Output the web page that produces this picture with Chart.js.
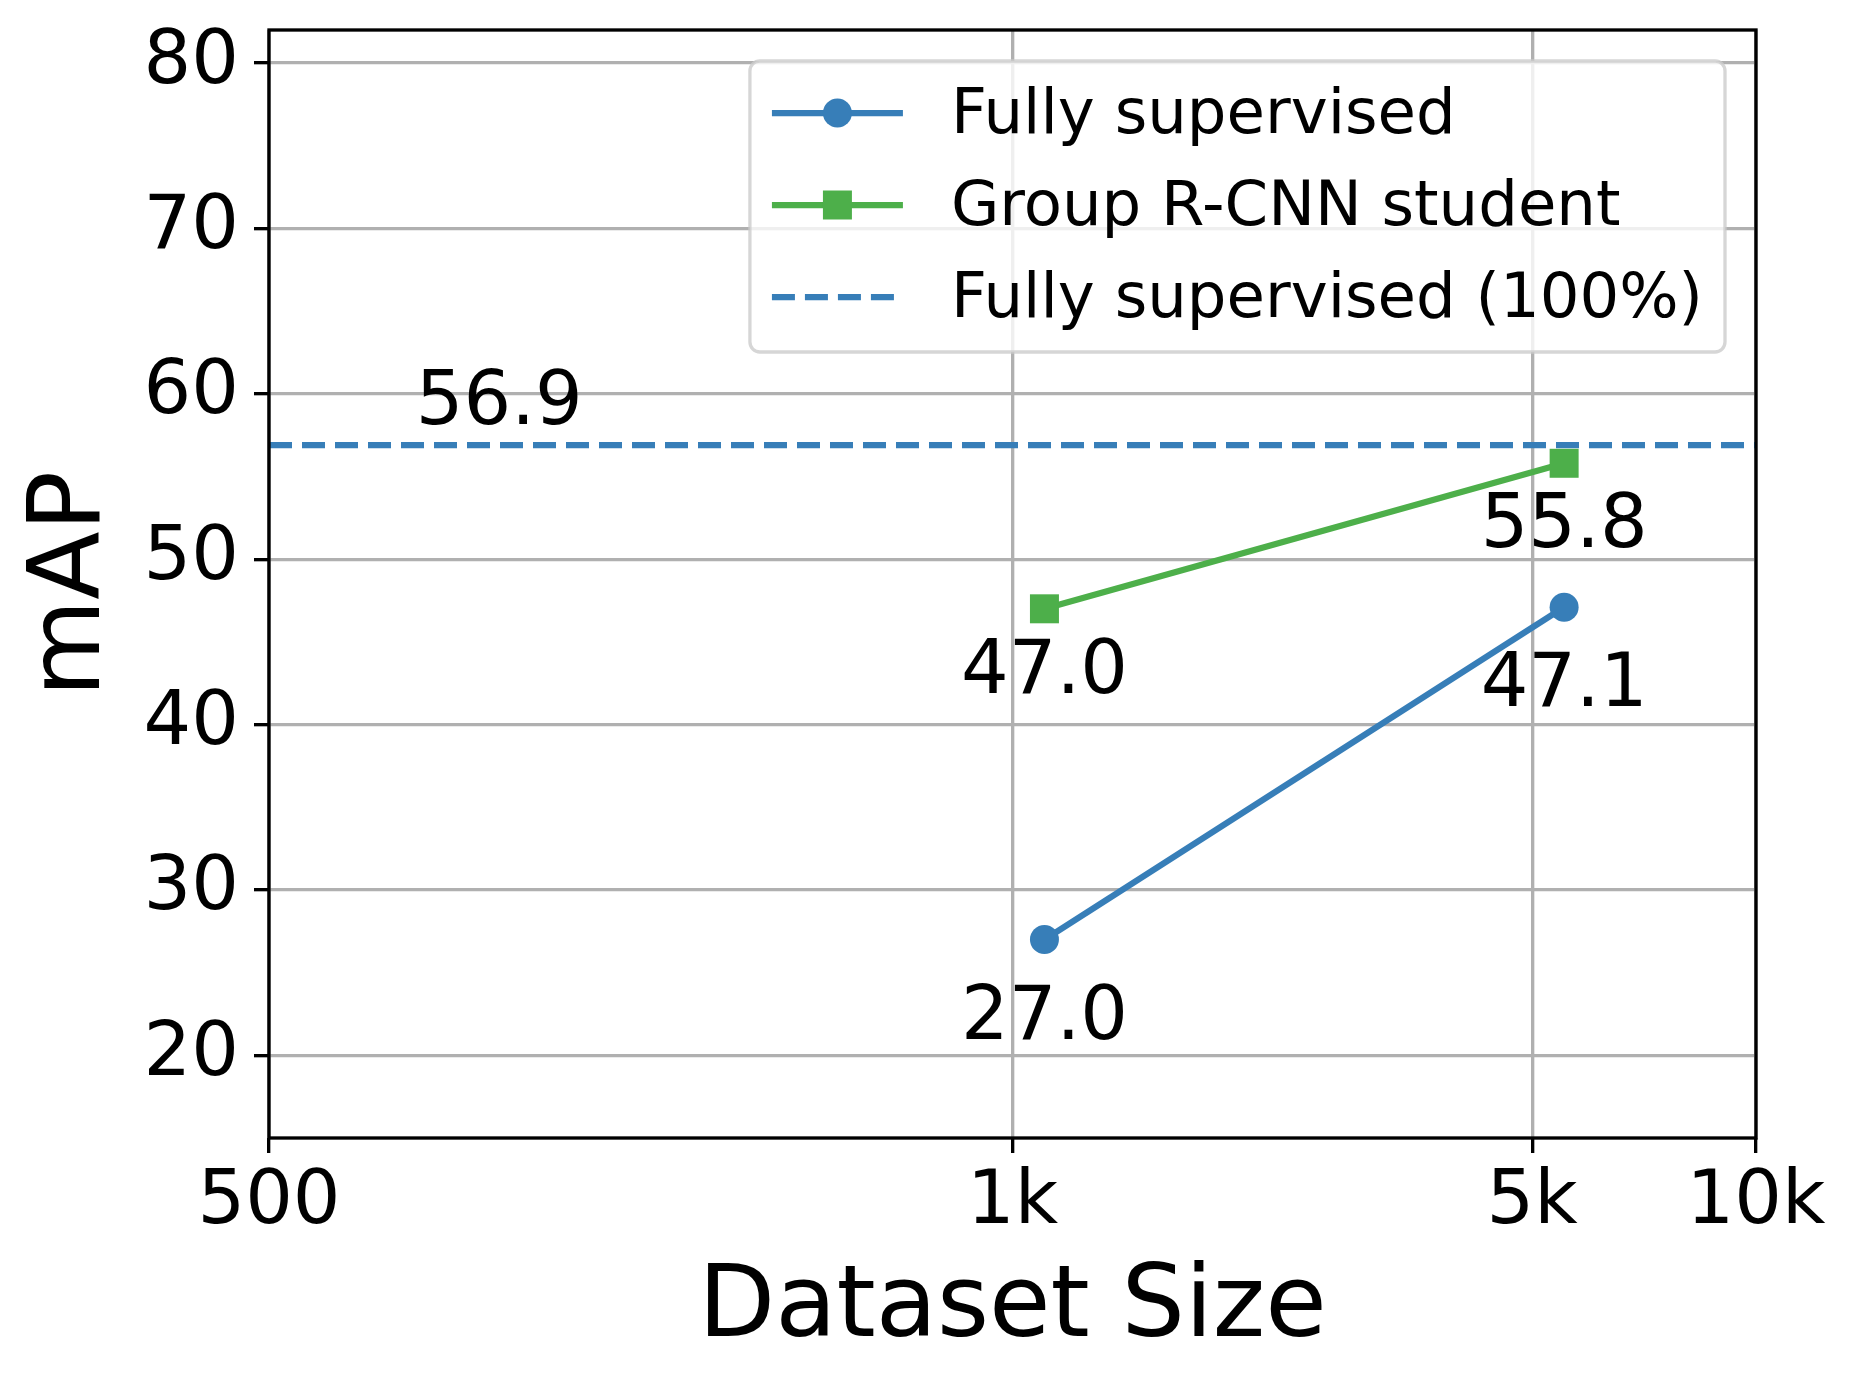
<!DOCTYPE html>
<html>
<head>
<meta charset="utf-8">
<title>mAP vs dataset size</title>
<script src="https://cdn.jsdelivr.net/npm/chart.js@4.4.1/dist/chart.umd.min.js"></script>
<style>
  html, body { margin: 0; padding: 0; background: #fff; }
  #wrap { width: 1855px; height: 1384px; position: relative; }
</style>
</head>
<body>
<div id="wrap"><canvas id="myChart"></canvas></div>
<script>
'use strict';

// data
const datasetSizes = [1104, 5520];
const fullySupervised = [27.0, 47.1];
const groupRcnnStudent = [47.0, 55.8];
const fullyRef = 56.9;
const seriesNames = ['Fully supervised', 'Group R-CNN student', 'Fully supervised (100%)'];

// axes
const xTickValues = [100, 1000, 5000, 10000];
const xTickLabels = ['500', '1k', '5k', '10k'];
const yTickValues = [20, 30, 40, 50, 60, 70, 80];
const xMin = 100, xMax = 10000;
const yMin = 15, yMax = 82;
const refLabelX = 204;

const chartFont = '"DejaVu Sans", sans-serif';
const blue = '#377eb8';
const green = '#4daf4a';
const lw = 6.25;

function toPoints(xs, ys) {
  return xs.map((x, i) => ({ x: x, y: ys[i] }));
}

// black box all round the plot area
const framePlugin = {
  id: 'frame',
  afterDatasetsDraw(chart) {
    const { ctx, chartArea: a } = chart;
    ctx.save();
    ctx.strokeStyle = '#000';
    ctx.lineWidth = 3.33;
    ctx.strokeRect(a.left, a.top, a.right - a.left, a.bottom - a.top);
    ctx.restore();
  }
};

// numbers under the points and over the dashed line
const valueLabels = {
  id: 'valueLabels',
  afterDatasetsDraw(chart) {
    const ctx = chart.ctx;
    ctx.save();
    ctx.font = '75px ' + chartFont;
    ctx.fillStyle = '#000';
    ctx.textAlign = 'center';
    ctx.textBaseline = 'alphabetic';
    chart.data.datasets.forEach((d, i) => {
      if (!d.valueLabelOffset) return;
      chart.getDatasetMeta(i).data.forEach((pt, j) => {
        ctx.fillText(d.data[j].y.toFixed(1), pt.x, pt.y + d.valueLabelOffset);
      });
    });
    const xs = chart.scales.x, ys = chart.scales.y;
    ctx.fillText(fullyRef.toFixed(1), xs.getPixelForValue(refLabelX), ys.getPixelForValue(fullyRef) - 21);
    ctx.restore();
  }
};

// legend box inside the upper right corner
const insideLegend = {
  id: 'insideLegend',
  afterDraw(chart) {
    const { ctx, chartArea } = chart;
    const sets = chart.data.datasets;
    ctx.save();
    ctx.font = '62.5px ' + chartFont;
    const maxW = Math.max(...sets.map(d => ctx.measureText(d.label).width));
    const pad = 22, handleLen = 131, textPad = 48, rowGap = 92;
    const right = chartArea.right - 31;
    const top = chartArea.top + 31;
    const width = pad + handleLen + textPad + maxW + pad;
    const height = 291;
    const left = right - width;

    ctx.beginPath();
    ctx.roundRect(left, top, width, height, 10);
    ctx.fillStyle = 'rgba(255,255,255,0.8)';
    ctx.fill();
    ctx.lineWidth = 3.3;
    ctx.strokeStyle = 'rgba(204,204,204,0.8)';
    ctx.stroke();

    sets.forEach((d, i) => {
      const cy = top + 52 + i * rowGap;
      const x0 = left + pad;
      ctx.beginPath();
      ctx.setLineDash(d.borderDash || []);
      ctx.strokeStyle = d.borderColor;
      ctx.lineWidth = d.borderWidth;
      ctx.moveTo(x0, cy);
      ctx.lineTo(x0 + handleLen, cy);
      ctx.stroke();
      ctx.setLineDash([]);
      if (d.pointRadius > 0) {
        ctx.fillStyle = d.backgroundColor;
        Chart.helpers.drawPoint(ctx, { pointStyle: d.pointStyle, radius: d.pointRadius, borderWidth: 0, rotation: 0 },
          x0 + handleLen / 2, cy);
      }
      ctx.fillStyle = '#000';
      ctx.textAlign = 'left';
      ctx.textBaseline = 'middle';
      ctx.fillText(d.label, x0 + handleLen + textPad, cy + 4);
    });
    ctx.restore();
  }
};

const ctx = document.getElementById('myChart').getContext('2d');

new Chart(ctx, {
  type: 'line',
  data: {
    datasets: [
      {
        label: seriesNames[0],
        data: toPoints(datasetSizes, fullySupervised),
        borderColor: blue,
        backgroundColor: blue,
        borderWidth: lw,
        pointStyle: 'circle',
        pointRadius: 14.5,
        pointBorderWidth: 0,
        valueLabelOffset: 99
      },
      {
        label: seriesNames[1],
        data: toPoints(datasetSizes, groupRcnnStudent),
        borderColor: green,
        backgroundColor: green,
        borderWidth: lw,
        pointStyle: 'rect',
        pointRadius: 20.5,
        pointBorderWidth: 0,
        valueLabelOffset: 84
      },
      {
        label: seriesNames[2],
        data: [{ x: xMin, y: fullyRef }, { x: xMax, y: fullyRef }],
        borderColor: blue,
        backgroundColor: blue,
        borderWidth: lw,
        borderDash: [23, 10],
        pointRadius: 0
      }
    ]
  },
  options: {
    responsive: true,
    maintainAspectRatio: false,
    devicePixelRatio: 1,
    animation: false,
    events: [],
    layout: { padding: { top: 30, right: 99, left: 0, bottom: 0 } },
    plugins: {
      legend: { display: false },
      tooltip: { enabled: false }
    },
    scales: {
      x: {
        type: 'logarithmic',
        min: xMin,
        max: xMax,
        afterBuildTicks: scale => { scale.ticks = xTickValues.map(v => ({ value: v })); },
        afterFit: scale => {
          scale.height = 246;
          scale.paddingLeft = 0; scale.paddingRight = 0;
          scale.paddingTop = 0; scale.paddingBottom = 0;
        },
        ticks: {
          autoSkip: false,
          maxRotation: 0,
          padding: 6,
          color: '#000',
          font: { family: chartFont, size: 75 },
          callback: (v, i) => xTickLabels[i]
        },
        grid: { color: '#b0b0b0', lineWidth: 3.33, tickLength: 15, tickWidth: 3.33, tickColor: '#000' },
        border: { display: false },
        title: {
          display: true,
          text: 'Dataset Size',
          color: '#000',
          font: { family: chartFont, size: 100 },
          padding: { top: 0, bottom: 14 }
        }
      },
      y: {
        type: 'linear',
        min: yMin,
        max: yMax,
        afterBuildTicks: scale => { scale.ticks = yTickValues.map(v => ({ value: v })); },
        afterFit: scale => {
          scale.width = 269;
          scale.paddingLeft = 0; scale.paddingRight = 0;
          scale.paddingTop = 0; scale.paddingBottom = 0;
        },
        ticks: {
          padding: 15,
          color: '#000',
          font: { family: chartFont, size: 75 },
          callback: v => v
        },
        grid: { color: '#b0b0b0', lineWidth: 3.33, tickLength: 15, tickWidth: 3.33, tickColor: '#000' },
        border: { display: false },
        title: {
          display: true,
          text: 'mAP',
          color: '#000',
          font: { family: chartFont, size: 100 },
          padding: { top: 13, bottom: 0 }
        }
      }
    }
  },
  plugins: [framePlugin, valueLabels, insideLegend]
});
</script>
</body>
</html>
